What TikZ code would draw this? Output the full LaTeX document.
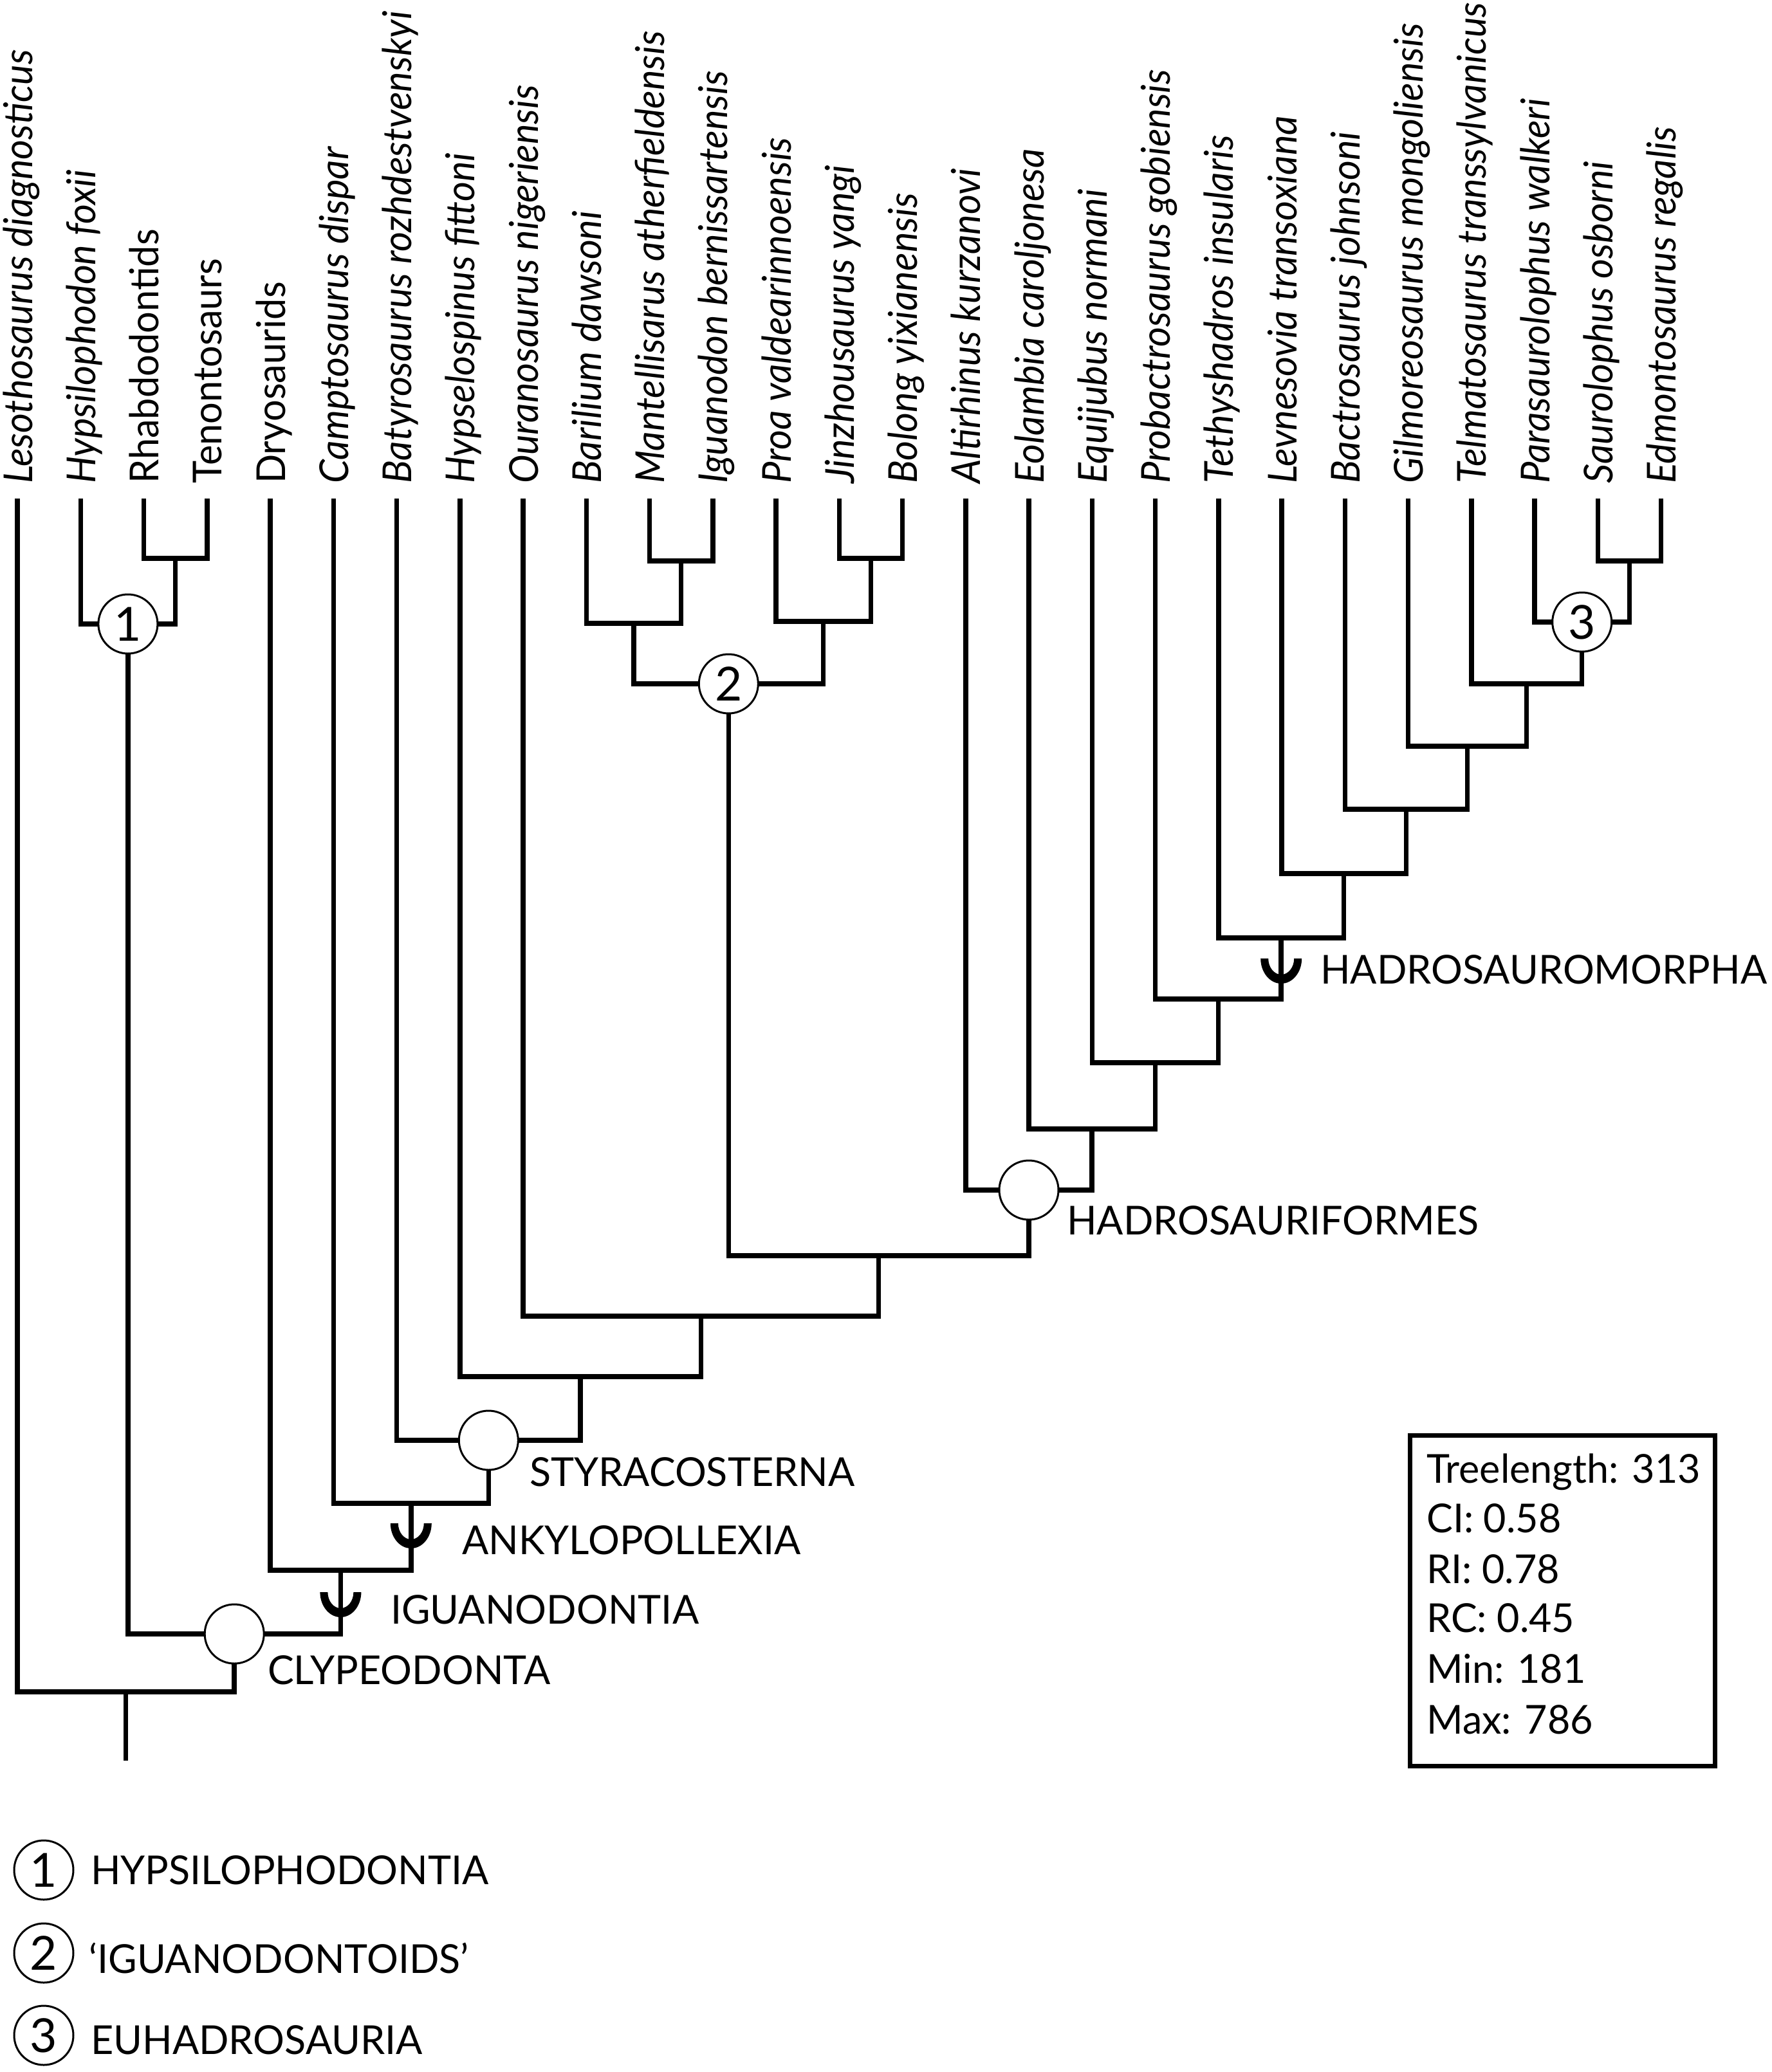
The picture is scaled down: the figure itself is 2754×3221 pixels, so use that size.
\documentclass[tikz,border=0pt]{standalone}
\usepackage{fontspec}
\setmainfont{Lato}
\newfontfamily\taxfont[FakeStretch=0.96]{Lato}
\newfontfamily\capfont[FakeStretch=0.985]{Lato}
\usetikzlibrary{calc}
\begin{document}
\begin{tikzpicture}[x=1pt,y=-1pt,
  br/.style={line width=7.5pt},
  clade/.style={circle, draw, line width=3pt, fill=white, minimum size=92pt, inner sep=0pt, font=\fontsize{73}{80}\selectfont},
  tax/.style={rotate=90, anchor=base west, inner sep=0pt, font=\taxfont\itshape\fontsize{62}{70}\selectfont},
  taxup/.style={rotate=90, anchor=base west, inner sep=0pt, font=\taxfont\upshape\fontsize{62}{70}\selectfont},
  lab/.style={anchor=base west, inner sep=0pt, font=\capfont\fontsize{62}{70}\selectfont},
  shoe/.pic={\fill (-32,0) arc[start angle=180,end angle=360,x radius=32pt,y radius=39pt] -- ++(-12pt,0) arc[start angle=360,end angle=180,x radius=20pt,y radius=25pt] -- cycle;}]
\useasboundingbox (0,0) rectangle (2754,3221);

% tips
\foreach \i in {0,...,26} \coordinate (t\i) at ({27+98.25*\i},775);

% taxon labels
\foreach \i/\t in {0/Lesothosaurus diagnosticus, 1/Hypsilophodon foxii,
  5/Camptosaurus dispar, 6/Batyrosaurus rozhdestvenskyi, 7/Hypselospinus fittoni,
  8/Ouranosaurus nigeriensis, 9/Barilium dawsoni, 10/Mantellisarus atherfieldensis,
  11/Iguanodon bernissartensis, 12/Proa valdearinnoensis, 13/Jinzhousaurus yangi,
  14/Bolong yixianensis, 15/Altirhinus kurzanovi, 16/Eolambia caroljonesa,
  17/Equijubus normani, 18/Probactrosaurus gobiensis, 19/Tethyshadros insularis,
  20/Levnesovia transoxiana, 21/Bactrosaurus johnsoni, 22/Gilmoreosaurus mongoliensis,
  23/Telmatosaurus transsylvanicus, 24/Parasaurolophus walkeri, 25/Saurolophus osborni,
  26/Edmontosaurus regalis}
  \node[tax] (l\i) at ({27+98.25*\i+23},752) {\t};
\foreach \i/\t in {2/Rhabdodontids, 3/Tenontosaurs, 4/Dryosaurids}
  \node[taxup] (l\i) at ({27+98.25*\i+23},752) {\t};

% internal nodes
\coordinate (a1) at (272.6,868);
\coordinate (c1) at (198.9,970);
\coordinate (b1) at (1058.6,872);
\coordinate (b2) at (984.9,969);
\coordinate (b3) at (1353.4,868);
\coordinate (b4) at (1279.7,966);
\coordinate (c2) at (1132.3,1063);
\coordinate (e1) at (2532.4,872);
\coordinate (c3) at (2458.7,967);
\coordinate (e2) at (2372.7,1063);
\coordinate (e3) at (2280.6,1160);
\coordinate (e4) at (2185.4,1258);
\coordinate (e5) at (2088.7,1358);
\coordinate (e6) at (1991.2,1458);
\coordinate (e7) at (1893.4,1553);
\coordinate (e8) at (1795.3,1652);
\coordinate (e9) at (1697.2,1755);
\coordinate (cH) at (1599,1850);
\coordinate (f1) at (1365.6,1952);
\coordinate (f2) at (1089.3,2046);
\coordinate (f3) at (902,2140);
\coordinate (cS) at (759.3,2239);
\coordinate (g1) at (638.8,2337);
\coordinate (g2) at (529.4,2441);
\coordinate (cC) at (364.2,2540);
\coordinate (r) at (195.6,2630);
\coordinate (base) at (195.6,2737);

% branches
\draw[br] (t2) |- (a1) -| (t3);
\draw[br] (t1) |- (c1) -| (a1);
\draw[br] (t10) |- (b1) -| (t11);
\draw[br] (t9) |- (b2) -| (b1);
\draw[br] (t13) |- (b3) -| (t14);
\draw[br] (t12) |- (b4) -| (b3);
\draw[br] (b2) |- (c2) -| (b4);
\draw[br] (t25) |- (e1) -| (t26);
\draw[br] (t24) |- (c3) -| (e1);
\draw[br] (t23) |- (e2) -| (c3);
\draw[br] (t22) |- (e3) -| (e2);
\draw[br] (t21) |- (e4) -| (e3);
\draw[br] (t20) |- (e5) -| (e4);
\draw[br] (t19) |- (e6) -| (e5);
\draw[br] (t18) |- (e7) -| (e6);
\draw[br] (t17) |- (e8) -| (e7);
\draw[br] (t16) |- (e9) -| (e8);
\draw[br] (t15) |- (cH) -| (e9);
\draw[br] (c2) |- (f1) -| (cH);
\draw[br] (t8) |- (f2) -| (f1);
\draw[br] (t7) |- (f3) -| (f2);
\draw[br] (t6) |- (cS) -| (f3);
\draw[br] (t5) |- (g1) -| (cS);
\draw[br] (t4) |- (g2) -| (g1);
\draw[br] (c1) |- (cC) -| (g2);
\draw[br] (t0) |- (r) -| (cC);
\draw[br] (r) -- (base);

% clade circles
\node[clade] (k1) at (c1) {1};
\node[clade] (k2) at (c2) {2};
\node[clade] (k3) at (c3) {3};
\node[clade] (kH) at (cH) {};
\node[clade] (kS) at (cS) {};
\node[clade] (kC) at (cC) {};

% stem-based symbols
\coordinate (hH) at (1991.2,1490);
\coordinate (hA) at (638.8,2368);
\coordinate (hI) at (529.4,2475);
\pic at (hH) {shoe};
\pic at (hA) {shoe};
\pic at (hI) {shoe};

% clade names
\node[lab] (nC) at (416,2618) {CLYPEODONTA};
\node[lab] (nI) at (607,2524) {IGUANODONTIA};
\node[lab] (nA) at (718,2416) {ANKYLOPOLLEXIA};
\node[lab] (nS) at (823,2310) {STYRACOSTERNA};
\node[lab] (nHf) at (1658,1919) {HADROSAURIFORMES};
\node[lab] (nHm) at (2052,1529) {HADROSAUROMORPHA};

% statistics box
\node[draw, line width=7pt, minimum width=474pt, minimum height=514pt, inner sep=0pt, anchor=north west] (stats) at (2187.5,2227.5) {};
\node[lab] (s1) at (2217,2305) {Treelength: 313};
\node[lab] (s2) at (2217,2382) {CI: 0.58};
\node[lab] (s3) at (2217,2461) {RI: 0.78};
\node[lab] (s4) at (2217,2537) {RC: 0.45};
\node[lab] (s5) at (2217,2616) {Min: 181};
\node[lab] (s6) at (2217,2695) {Max: 786};

% legend
\node[clade] (m1) at (68,2907) {1};
\node[clade] (m2) at (68,3036) {2};
\node[clade] (m3) at (68,3164) {3};
\node[lab] (d1) at (141,2929) {HYPSILOPHODONTIA};
\node[lab] (d2) at (138,3067) {‘IGUANODONTOIDS’};
\node[lab] (d3) at (141,3193) {EUHADROSAURIA};
\end{tikzpicture}
\end{document}
